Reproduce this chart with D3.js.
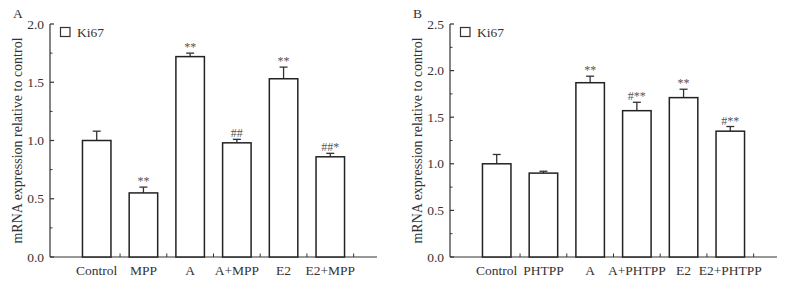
<!DOCTYPE html>
<html>
<head>
<meta charset="utf-8">
<script src="https://cdn.jsdelivr.net/npm/d3@7"></script>
<style>
  body { margin: 0; background: #fff; }
  svg { display: block; }
  text { font-family: "Liberation Serif", "Times New Roman", serif; fill: #333; }
</style>
</head>
<body>
<div id="chart"></div>
<script>
var groupsA = ["Control", "MPP", "A", "A+MPP", "E2", "E2+MPP"];
var meanA = [1.00, 0.55, 1.72, 0.98, 1.53, 0.86];
var errA = [0.08, 0.05, 0.03, 0.03, 0.10, 0.03];
var markA = ["", "**", "**", "##", "**", "##*"];

var groupsB = ["Control", "PHTPP", "A", "A+PHTPP", "E2", "E2+PHTPP"];
var meanB = [1.00, 0.90, 1.87, 1.57, 1.71, 1.35];
var errB = [0.10, 0.02, 0.07, 0.09, 0.09, 0.05];
var markB = ["", "", "**", "#**", "**", "#**"];

var ticksA = [0, 0.5, 1.0, 1.5, 2.0];
var ticksB = [0, 0.5, 1.0, 1.5, 2.0, 2.5];

var width = 787, height = 285;
var ink = "#333";

var svg = d3.select("#chart").append("svg")
    .attr("width", width)
    .attr("height", height);

function drawPanel(offsetX, letter, groups, means, errs, marks, ticks, ymax) {
  var g = svg.append("g").attr("transform", "translate(" + offsetX + ",0)");

  var x0 = 50, x1 = 377, yTop = 24, yBot = 257;

  var x = d3.scalePoint()
      .domain(groups)
      .range([x0, x1])
      .padding(1);
  var step = x.step();
  var barW = step * 0.61;

  var y = d3.scaleLinear()
      .domain([0, ymax])
      .range([yBot, yTop]);

  // y axis line + ticks (inward)
  g.append("line")
    .attr("x1", x0).attr("x2", x0)
    .attr("y1", y(0)).attr("y2", y(ymax))
    .attr("stroke", ink).attr("stroke-width", 1.2);

  var minor = d3.range(0.25, ymax, 0.5);
  g.selectAll(".minor").data(minor).enter().append("line")
    .attr("x1", x0).attr("x2", x0 + 2.5)
    .attr("y1", function(d) { return y(d); })
    .attr("y2", function(d) { return y(d); })
    .attr("stroke", ink).attr("stroke-width", 1);

  g.selectAll(".major").data(ticks).enter().append("line")
    .attr("x1", x0).attr("x2", x0 + 4)
    .attr("y1", function(d) { return y(d); })
    .attr("y2", function(d) { return y(d); })
    .attr("stroke", ink).attr("stroke-width", 1.2);

  g.selectAll(".ylab").data(ticks).enter().append("text")
    .attr("x", x0 - 6)
    .attr("y", function(d) { return y(d) + 4.5; })
    .attr("text-anchor", "end")
    .style("font-size", "13.5px")
    .text(function(d) { return d.toFixed(1); });

  // x axis
  g.append("line")
    .attr("x1", x0).attr("x2", x1)
    .attr("y1", y(0)).attr("y2", y(0))
    .attr("stroke", ink).attr("stroke-width", 1.2);

  var bounds = groups.map(function(d) { return x(d) + step / 2; });
  g.selectAll(".xtick").data(bounds).enter().append("line")
    .attr("x1", function(d) { return d; })
    .attr("x2", function(d) { return d; })
    .attr("y1", y(0)).attr("y2", y(0) - 3.5)
    .attr("stroke", ink).attr("stroke-width", 1);

  g.selectAll(".xlab").data(groups).enter().append("text")
    .attr("x", function(d) { return x(d); })
    .attr("y", 275)
    .attr("text-anchor", "middle")
    .style("font-size", "13.5px")
    .text(function(d) { return d; });

  // error bars
  var rows = groups.map(function(d, i) {
    return {name: d, v: means[i], e: errs[i], m: marks[i]};
  });

  g.selectAll(".err").data(rows).enter().append("line")
    .attr("x1", function(d) { return x(d.name); })
    .attr("x2", function(d) { return x(d.name); })
    .attr("y1", function(d) { return y(d.v); })
    .attr("y2", function(d) { return y(d.v + d.e); })
    .attr("stroke", ink).attr("stroke-width", 1.3);

  g.selectAll(".cap").data(rows).enter().append("line")
    .attr("x1", function(d) { return x(d.name) - 4; })
    .attr("x2", function(d) { return x(d.name) + 4; })
    .attr("y1", function(d) { return y(d.v + d.e); })
    .attr("y2", function(d) { return y(d.v + d.e); })
    .attr("stroke", ink).attr("stroke-width", 1.3);

  // bars
  g.selectAll(".bar").data(rows).enter().append("rect")
    .attr("x", function(d) { return x(d.name) - barW / 2; })
    .attr("y", function(d) { return y(d.v); })
    .attr("width", barW)
    .attr("height", function(d) { return y(0) - y(d.v); })
    .attr("fill", "#fff")
    .attr("stroke", "#222")
    .attr("stroke-width", 1.5);

  // significance marks
  g.selectAll(".mark").data(rows).enter().append("text")
    .attr("x", function(d) { return x(d.name); })
    .attr("y", function(d) { return y(d.v + d.e) - 2; })
    .attr("text-anchor", "middle")
    .style("font-size", "12px")
    .style("fill", "#555")
    .text(function(d) { return d.m; });

  // legend
  g.append("rect")
    .attr("x", 60.5).attr("y", 27.5)
    .attr("width", 9.5).attr("height", 9)
    .attr("fill", "#fff").attr("stroke", ink).attr("stroke-width", 1.2);
  g.append("text")
    .attr("x", 77).attr("y", 37)
    .style("font-size", "13.5px")
    .text("Ki67");

  // y title
  g.append("text")
    .attr("transform", "translate(22," + ((yTop + yBot) / 2) + ") rotate(-90)")
    .attr("text-anchor", "middle")
    .style("font-size", "14px")
    .text("mRNA expression relative to control");

  // panel letter
  g.append("text")
    .attr("x", 13).attr("y", 18)
    .style("font-size", "13.5px")
    .text(letter);
}

drawPanel(0, "A", groupsA, meanA, errA, markA, ticksA, 2.0);
drawPanel(400, "B", groupsB, meanB, errB, markB, ticksB, 2.5);
</script>
</body>
</html>
